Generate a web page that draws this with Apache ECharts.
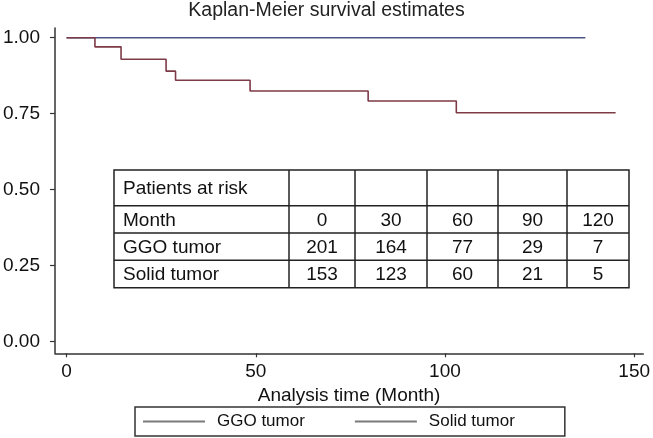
<!DOCTYPE html>
<html>
<head>
<meta charset="utf-8">
<script src="https://cdn.jsdelivr.net/npm/echarts@6/dist/echarts.min.js"></script>
<style>
  html, body { margin: 0; padding: 0; background: #fff; }
  #main { width: 653px; height: 438px; }
</style>
</head>
<body>
<div id="main"></div>
<script>
// survival curves (time in months, survival probability)
const ggoTime = [0, 137.1];
const ggoSurv = [1, 1];
const solidTime = [0, 7.5, 14.4, 26.3, 28.8, 48.5, 79.7, 103, 145.1];
const solidSurv = [1, 0.970, 0.929, 0.890, 0.860, 0.825, 0.792, 0.753, 0.753];

const xTicks = [0, 50, 100, 150];
const yTicks = [0, 0.25, 0.5, 0.75, 1];

// patients at risk table
const riskTitle = "Patients at risk";
const riskRowNames = ["Month", "GGO tumor", "Solid tumor"];
const riskMonths = [0, 30, 60, 90, 120];
const ggoAtRisk = [201, 164, 77, 29, 7];
const solidAtRisk = [153, 123, 60, 21, 5];

const FONT = "'Liberation Sans', Arial, Helvetica, sans-serif";

// table layout (pixels)
const colEdges = [114, 289, 355, 427, 498, 567, 629];
const rowEdges = [170, 205.7, 233, 260.3, 287.7];

function buildTable() {
  const els = [];
  const line = (x1, y1, x2, y2) => ({
    type: "line",
    shape: { x1, y1, x2, y2 },
    style: { stroke: "#222", lineWidth: 1.5 },
    z: 10,
  });
  const x0 = colEdges[0], x1 = colEdges[colEdges.length - 1];
  const y0 = rowEdges[0], y1 = rowEdges[rowEdges.length - 1];
  els.push({
    type: "rect",
    shape: { x: x0, y: y0, width: x1 - x0, height: y1 - y0 },
    style: { fill: "#fff", stroke: "#222", lineWidth: 1.5 },
    z: 9,
  });
  rowEdges.slice(1, -1).forEach((y) => els.push(line(x0, y, x1, y)));
  colEdges.slice(1, -1).forEach((x) => els.push(line(x, y0, x, y1)));

  const text = (s, x, y, align) => ({
    type: "text",
    x, y,
    style: {
      text: String(s), fill: "#111", font: "19px " + FONT,
      align: align, verticalAlign: "middle",
    },
    z: 11,
  });
  const midY = (i) => (rowEdges[i] + rowEdges[i + 1]) / 2 + 1;
  const midX = (j) => (colEdges[j] + colEdges[j + 1]) / 2;
  els.push(text(riskTitle, x0 + 9, midY(0), "left"));
  const rows = [riskMonths, ggoAtRisk, solidAtRisk];
  rows.forEach((vals, r) => {
    els.push(text(riskRowNames[r], x0 + 9, midY(r + 1), "left"));
    vals.forEach((v, c) => els.push(text(v, midX(c + 1), midY(r + 1), "center")));
  });
  return els;
}

const chart = echarts.init(document.getElementById("main"));
const option = {
  backgroundColor: "#fff",
  animation: false,
  textStyle: { fontFamily: FONT },
  title: {
    text: "Kaplan-Meier survival estimates",
    left: "center",
    top: 1,
    padding: 0,
    textStyle: { fontSize: 19.5, fontWeight: "normal", color: "#222", fontFamily: FONT },
  },
  grid: { left: 54, right: 5, top: 28, bottom: 84.7 },
  xAxis: {
    type: "value",
    min: -3.06,
    max: 152.4,
    name: "Analysis time (Month)",
    nameLocation: "middle",
    nameGap: 31,
    nameTextStyle: { fontSize: 19, color: "#111", fontFamily: FONT },
    axisLine: { onZero: false, lineStyle: { color: "#333", width: 1.5 } },
    axisTick: { customValues: xTicks, length: 4, lineStyle: { color: "#333", width: 1.2 } },
    axisLabel: { customValues: xTicks, fontSize: 19, color: "#111", margin: 9 },
    splitLine: { show: false },
  },
  yAxis: {
    type: "value",
    min: -0.038,
    max: 1.032,
    axisLine: { show: true, onZero: false, lineStyle: { color: "#333", width: 1.5 } },
    axisTick: { show: true, customValues: yTicks, length: 5, lineStyle: { color: "#333", width: 1.2 } },
    axisLabel: {
      customValues: yTicks, fontSize: 19, color: "#111", margin: 15,
      formatter: (v) => v.toFixed(2),
    },
    splitLine: { show: false },
  },
  legend: {
    left: 135,
    top: 407,
    orient: "horizontal",
    icon: "rect",
    itemWidth: 62,
    itemHeight: 2,
    itemGap: 50,
    padding: [6, 50, 6, 8],
    borderColor: "#333",
    borderWidth: 1.5,
    textStyle: { fontSize: 17, color: "#111", fontFamily: FONT, padding: [0, 0, 0, 7] },
    itemStyle: { color: "#7a7a7a" },
    data: ["GGO tumor", "Solid tumor"],
  },
  series: [
    {
      name: "GGO tumor",
      type: "line",
      step: "end",
      symbol: "none",
      data: ggoTime.map((t, i) => [t, ggoSurv[i]]),
      lineStyle: { color: "#4b5487", width: 1.6 },
      itemStyle: { color: "#4b5487" },
    },
    {
      name: "Solid tumor",
      type: "line",
      step: "end",
      symbol: "none",
      data: solidTime.map((t, i) => [t, solidSurv[i]]),
      lineStyle: { color: "#7d3a47", width: 1.6 },
      itemStyle: { color: "#7d3a47" },
    },
  ],
  graphic: buildTable(),
};
chart.setOption(option);
</script>
</body>
</html>
